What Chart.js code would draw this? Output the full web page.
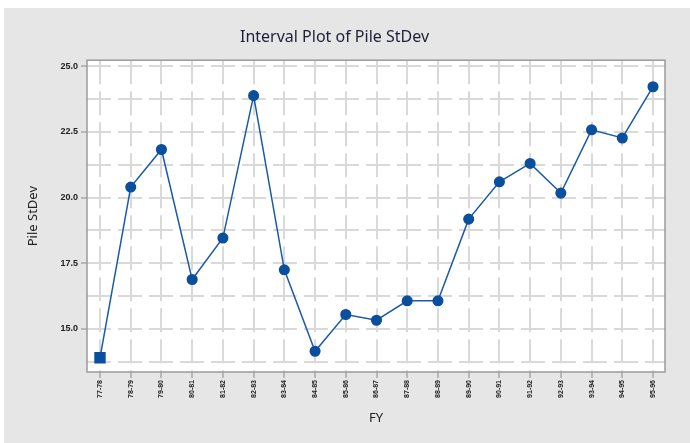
<!DOCTYPE html>
<html>
<head>
<meta charset="utf-8">
<script src="https://cdn.jsdelivr.net/npm/chart.js@4"></script>
<style>
  html, body { margin: 0; padding: 0; background: #ffffff; }
  #panel { position: absolute; left: 4px; top: 8px; width: 686px; height: 435px; background: #e6e6e6; }
  canvas { display: block; }
</style>
</head>
<body>
<div id="panel"><canvas id="chart" width="686" height="435"></canvas></div>
<script>
const fy = ["77-78", "78-79", "79-80", "80-81", "81-82", "82-83", "83-84", "84-85", "85-86", "86-87",
            "87-88", "88-89", "89-90", "90-91", "91-92", "92-93", "93-94", "94-95", "95-96"];
const pileStDev = [13.90, 20.40, 21.83, 16.88, 18.46, 23.88, 17.25, 14.15, 15.55, 15.33,
                   16.07, 16.07, 19.18, 20.60, 21.30, 20.17, 22.58, 22.27, 24.22];
const yTicks = [15.0, 17.5, 20.0, 22.5, 25.0];
const yGrid = [13.75, 15.0, 16.25, 17.5, 18.75, 20.0, 21.25, 22.5, 23.75, 25.0];

const blue = "#0a4f9e";
const gridGrey = "#d9d9d9";

const points = fy.map((label, i) => ({ x: i, y: pileStDev[i] }));

// white plot area + full frame, Minitab style
const frame = {
  id: "frame",
  beforeDraw(chart) {
    const { ctx, chartArea: a } = chart;
    ctx.save();
    ctx.fillStyle = "#ffffff";
    ctx.fillRect(a.left, a.top, a.right - a.left, a.bottom - a.top);
    ctx.restore();
  },
  beforeDatasetsDraw(chart) {
    const { ctx, chartArea: a } = chart;
    ctx.save();
    ctx.strokeStyle = "#9a9a9a";
    ctx.lineWidth = 1.5;
    ctx.strokeRect(a.left, a.top, a.right - a.left, a.bottom - a.top);
    ctx.restore();
  }
};

new Chart(document.getElementById("chart"), {
  type: "line",
  data: {
    datasets: [{
      label: "Pile StDev",
      data: points,
      borderColor: "#1a5aa8",
      borderWidth: 1.5,
      backgroundColor: blue,
      pointBackgroundColor: blue,
      pointBorderColor: blue,
      pointStyle: ctx => ctx.dataIndex === 0 ? "rect" : "circle",
      pointRadius: ctx => ctx.dataIndex === 0 ? 7 : 4.8,
      tension: 0
    }]
  },
  options: {
    responsive: false,
    animation: false,
    layout: { padding: { left: 0, right: 25, top: 0, bottom: 0 } },
    plugins: {
      legend: { display: false },
      tooltip: { enabled: false },
      title: {
        display: true,
        text: "Interval Plot of Pile StDev",
        color: "#1f1f3a",
        font: { family: "Noto Sans", size: 16, weight: "normal" },
        padding: { top: 20, bottom: 13 }
      }
    },
    scales: {
      x: {
        type: "linear",
        min: -0.423,
        max: 18.39,
        afterBuildTicks: s => { s.ticks = fy.map((l, i) => ({ value: i })); },
        afterFit: s => { s.height = 71; },
        grid: {
          color: gridGrey,
          lineWidth: 2,
          tickLength: 6,
          tickColor: "#8a8a8a",
          tickWidth: 1
        },
        border: { display: false, dash: [24, 7] },
        ticks: {
          autoSkip: false,
          maxRotation: 90,
          minRotation: 90,
          padding: 2,
          color: "#222",
          font: { family: "Liberation Sans", size: 7, weight: "bold" },
          callback: v => fy[v]
        },
        title: {
          display: true,
          text: "FY",
          color: "#222",
          font: { family: "Noto Sans", size: 13 },
          padding: { top: 0, bottom: 17 }
        }
      },
      y: {
        min: 13.36,
        max: 25.23,
        afterBuildTicks: s => { s.ticks = yGrid.map(v => ({ value: v })); },
        afterFit: s => { s.width = 83; },
        grid: {
          color: gridGrey,
          lineWidth: 2,
          tickLength: 6,
          tickWidth: 1,
          tickColor: ctx => (ctx.tick && yTicks.includes(ctx.tick.value)) ? "#8a8a8a" : "rgba(0,0,0,0)"
        },
        border: { display: false, dash: [24, 7] },
        ticks: {
          autoSkip: false,
          padding: 3,
          color: "#222",
          font: { family: "Liberation Sans", size: 9, weight: "bold" },
          callback: v => yTicks.includes(v) ? v.toFixed(1) : ""
        },
        title: {
          display: true,
          text: "Pile StDev",
          color: "#222",
          font: { family: "Noto Sans", size: 13 },
          padding: { top: 21, bottom: 0 }
        }
      }
    }
  },
  plugins: [frame]
});
</script>
</body>
</html>
